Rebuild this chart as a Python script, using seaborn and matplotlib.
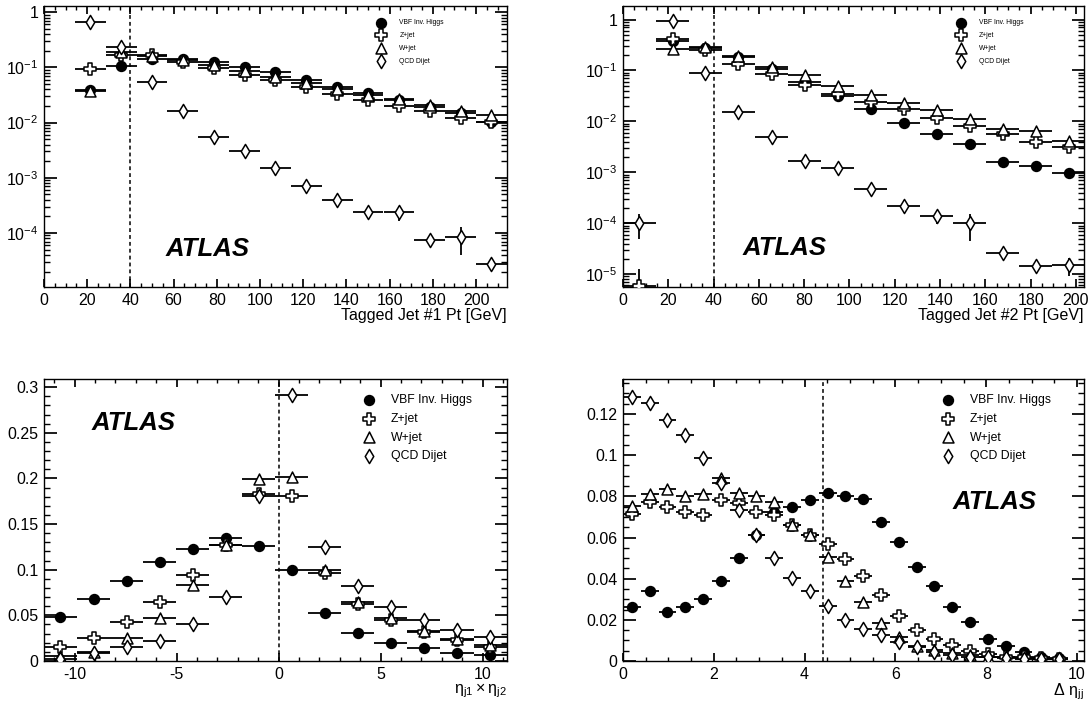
import matplotlib
matplotlib.use("Agg")
import matplotlib.pyplot as plt
import numpy as np
import seaborn as sns
from matplotlib.ticker import MultipleLocator, LogLocator, FuncFormatter, NullFormatter

sns.set_theme(style="ticks")
plt.rcParams["font.family"] = ["Liberation Sans", "DejaVu Sans"]
plt.rcParams["mathtext.fontset"] = "dejavusans"
plt.rcParams["mathtext.default"] = "regular"
for key in ("text.color", "axes.labelcolor", "xtick.color", "ytick.color", "axes.edgecolor"):
    plt.rcParams[key] = "black"

SAMPLES = ["VBF Inv. Higgs", "Z+jet", "W+jet", "QCD Dijet"]

# --- tagged jet #1 pt ---
pt1_x = [21.4, 35.7, 50.0, 64.3, 78.6, 92.9, 107.1, 121.4, 135.7, 150.0, 164.3, 178.6, 192.9, 207.1]
pt1_vbf = [0.039, 0.106, 0.140, 0.142, 0.127, 0.103, 0.081, 0.059, 0.0435, 0.034, 0.0257, 0.0195, 0.0152, 0.0104]
pt1_zjet = [0.092, 0.170, 0.167, 0.127, 0.096, 0.073, 0.059, 0.0435, 0.033, 0.0257, 0.020, 0.016, 0.0121, 0.0104]
pt1_wjet = [0.038, 0.190, 0.160, 0.135, 0.110, 0.085, 0.068, 0.053, 0.040, 0.031, 0.027, 0.021, 0.016, 0.0138]
pt1_qcd = [0.67, 0.235, 0.054, 0.0163, 0.0056, 0.0030, 0.0015, 7.0e-4, 4.0e-4, 2.35e-4, 2.35e-4, 7.4e-5, 8.5e-5, 2.7e-5]
pt1_qcd_err = [0, 0, 0, 0, 0, 0, 0, 0, 2e-5, 2e-5, 7e-5, 1e-5, 4.5e-5, 5e-6]

# --- tagged jet #2 pt ---
pt2_x = [7.3, 21.9, 36.4, 51.0, 65.6, 80.2, 94.8, 109.3, 123.9, 138.5, 153.0, 167.6, 182.2, 196.8]
pt2_vbf = [np.nan, 0.388, 0.281, 0.181, 0.106, 0.059, 0.0312, 0.0175, 0.0091, 0.0056, 0.0036, 0.00156, 0.00134, 0.00096]
pt2_zjet = [5.9e-6, 0.42, 0.253, 0.137, 0.084, 0.051, 0.0347, 0.0237, 0.0175, 0.0119, 0.0081, 0.0056, 0.0039, 0.0031]
pt2_zjet_err = [6.5e-6, 0, 0, 0, 0, 0, 0, 0, 0, 0, 0, 0, 0, 0]
pt2_wjet = [np.nan, 0.26, 0.294, 0.192, 0.118, 0.080, 0.0486, 0.0332, 0.023, 0.0167, 0.011, 0.0072, 0.0065, 0.0041]
pt2_qcd = [1.0e-4, 0.92, 0.088, 0.0155, 0.0050, 0.0017, 0.00124, 4.8e-4, 2.2e-4, 1.36e-4, 1.0e-4, 2.57e-5, 1.44e-5, 1.5e-5]
pt2_qcd_err = [5.2e-5, 0, 0, 0, 0, 0, 0, 0, 6e-5, 4e-5, 5.5e-5, 0, 0, 6e-6]

# --- eta_j1 x eta_j2 ---
eta_x = [-10.69, -9.07, -7.45, -5.83, -4.21, -2.59, -0.97, 0.65, 2.27, 3.89, 5.51, 7.13, 8.75, 10.37]
eta_vbf = [0.048, 0.068, 0.088, 0.108, 0.1225, 0.135, 0.126, 0.100, 0.053, 0.031, 0.020, 0.014, 0.0084, 0.0066]
eta_zjet = [0.015, 0.0248, 0.043, 0.065, 0.094, 0.127, 0.183, 0.181, 0.096, 0.063, 0.045, 0.032, 0.023, 0.0157]
eta_wjet = [0.0055, 0.010, 0.0248, 0.0467, 0.083, 0.127, 0.199, 0.202, 0.0995, 0.065, 0.047, 0.033, 0.024, 0.0175]
eta_qcd = [0.002, 0.0084, 0.015, 0.022, 0.0405, 0.070, 0.181, 0.292, 0.125, 0.082, 0.0594, 0.045, 0.034, 0.026]

# --- delta eta_jj ---
deta_x = [0.20, 0.59, 0.98, 1.37, 1.76, 2.16, 2.55, 2.94, 3.33, 3.72, 4.12, 4.51, 4.90,
          5.29, 5.68, 6.08, 6.47, 6.86, 7.25, 7.64, 8.04, 8.43, 8.82, 9.21, 9.60]
deta_vbf = [0.026, 0.034, 0.024, 0.026, 0.030, 0.039, 0.050, 0.0612, 0.0724, 0.0748, 0.0783, 0.0816, 0.080,
            0.0788, 0.0676, 0.058, 0.0458, 0.0363, 0.0264, 0.0188, 0.0109, 0.0072, 0.0043, 0.0021, 0.0016]
deta_zjet = [0.0712, 0.0773, 0.0749, 0.0725, 0.0709, 0.0781, 0.0770, 0.0725, 0.0709, 0.0661, 0.0613, 0.0568, 0.0496,
             0.0413, 0.0322, 0.0221, 0.0152, 0.0109, 0.0077, 0.0050, 0.0034, 0.0021, 0.0018, 0.0013, 0.0011]
deta_wjet = [0.0752, 0.0810, 0.0835, 0.0800, 0.0810, 0.0887, 0.0816, 0.0800, 0.0774, 0.0661, 0.0613, 0.0504, 0.0389,
             0.0285, 0.0184, 0.0117, 0.0072, 0.0053, 0.0037, 0.0029, 0.0021, 0.0018, 0.0014, 0.0011, 0.0010]
deta_qcd = [0.1285, 0.1253, 0.117, 0.110, 0.0987, 0.0866, 0.0733, 0.0613, 0.0501, 0.0405, 0.0338, 0.0269, 0.020,
            0.0157, 0.0125, 0.0093, 0.0069, 0.0045, 0.0029, 0.0021, 0.0018, 0.0013, 0.0011, 0.0010, 0.0008]

cuts = [40, 40, 0, 4.4]

MARKERS = {
    "VBF Inv. Higgs": ("o", "black", 50),
    "Z+jet": ("P", "white", 70),
    "W+jet": ("^", "white", 62),
    "QCD Dijet": ("d", "white", 52),
}


def draw_panel(ax, x, series, half_width, errors=None):
    errors = errors or {}
    for name, y in zip(SAMPLES, series):
        marker, face, size = MARKERS[name]
        ax.errorbar(x, y, xerr=half_width, yerr=errors.get(name), fmt="none",
                    ecolor="black", elinewidth=1.3, capsize=0, zorder=2)
        sns.scatterplot(x=x, y=y, marker=marker, s=size, color=face, edgecolor="black",
                        linewidth=1.1, ax=ax, label=name, zorder=3)


def style_axes(ax, xlabel, legend_anchor, legend_opts, atlas_xy):
    ax.tick_params(which="both", direction="in", top=True, right=True, colors="black",
                   labelsize=11.5, pad=4)
    ax.tick_params(axis="x", which="major", length=6)
    ax.tick_params(axis="x", which="minor", length=3)
    ax.tick_params(axis="y", which="major", length=9)
    ax.tick_params(axis="y", which="minor", length=4.5)
    for sp in ax.spines.values():
        sp.set_color("black")
        sp.set_linewidth(1.0)
    ax.set_xlabel(xlabel, loc="right", fontsize=11.5, labelpad=0)
    ax.set_ylabel("")
    ax.legend(loc="upper left", bbox_to_anchor=legend_anchor, frameon=False,
              borderpad=0, borderaxespad=0, **legend_opts)
    ax.text(atlas_xy[0], atlas_xy[1], "ATLAS", transform=ax.transAxes, fontsize=18.5,
            fontweight="bold", fontstyle="italic", ha="center", va="center")


def log_label(v, pos):
    if abs(v - 1) < 1e-9:
        return "1"
    return r"$10^{%d}$" % int(round(np.log10(v)))


fig = plt.figure(figsize=(10.91, 7.02), dpi=100)
ax1 = fig.add_axes([0.0403, 0.5912, 0.4244, 0.4003])
ax2 = fig.add_axes([0.5710, 0.5912, 0.4225, 0.4003])
ax3 = fig.add_axes([0.0403, 0.0584, 0.4244, 0.4017])
ax4 = fig.add_axes([0.5710, 0.0584, 0.4225, 0.4017])

for ax in (ax1, ax2):
    ax.set_yscale("log")

draw_panel(ax1, pt1_x, [pt1_vbf, pt1_zjet, pt1_wjet, pt1_qcd], 7.14,
           {"QCD Dijet": pt1_qcd_err})
draw_panel(ax2, pt2_x, [pt2_vbf, pt2_zjet, pt2_wjet, pt2_qcd], 7.29,
           {"Z+jet": pt2_zjet_err, "QCD Dijet": pt2_qcd_err})
draw_panel(ax3, eta_x, [eta_vbf, eta_zjet, eta_wjet, eta_qcd], 0.81)
draw_panel(ax4, deta_x, [deta_vbf, deta_zjet, deta_wjet, deta_qcd], 0.196)

for ax, c in zip((ax1, ax2, ax3, ax4), cuts):
    ax.axvline(c, color="black", lw=1.1, ls=(0, (2.5, 2)), zorder=1)

ax1.set_xlim(0, 214.3)
ax1.set_ylim(1.05e-5, 1.3)
ax2.set_xlim(0, 203.5)
ax2.set_ylim(5.6e-6, 1.85)
for ax in (ax1, ax2):
    ax.xaxis.set_major_locator(MultipleLocator(20))
    ax.xaxis.set_minor_locator(MultipleLocator(5))
    ax.yaxis.set_major_locator(LogLocator(base=10, numticks=12))
    ax.yaxis.set_minor_locator(LogLocator(base=10, subs=np.arange(2, 10), numticks=12))
    ax.yaxis.set_major_formatter(FuncFormatter(log_label))
    ax.yaxis.set_minor_formatter(NullFormatter())

ax3.set_xlim(-11.5, 11.2)
ax3.set_ylim(0, 0.309)
ax3.xaxis.set_major_locator(MultipleLocator(5))
ax3.xaxis.set_minor_locator(MultipleLocator(1))
ax3.yaxis.set_major_locator(MultipleLocator(0.05))
ax3.yaxis.set_minor_locator(MultipleLocator(0.01))

ax4.set_xlim(0, 10.15)
ax4.set_ylim(0, 0.137)
ax4.xaxis.set_major_locator(MultipleLocator(2))
ax4.xaxis.set_minor_locator(MultipleLocator(0.5))
ax4.yaxis.set_major_locator(MultipleLocator(0.02))
ax4.yaxis.set_minor_locator(MultipleLocator(0.005))
for ax in (ax3, ax4):
    ax.yaxis.set_major_formatter(FuncFormatter(lambda v, p: "%g" % round(v, 3)))
    ax.xaxis.set_major_formatter(FuncFormatter(lambda v, p: "%g" % round(v, 3)))

small_legend = dict(fontsize=4.9, handlelength=2.0, handletextpad=1.7, labelspacing=0.85)
big_legend = dict(fontsize=8.8, handlelength=1.0, handletextpad=1.3, labelspacing=0.56)

style_axes(ax1, "Tagged Jet #1 Pt [GeV]", (0.713, 0.952), small_legend, (0.353, 0.135))
style_axes(ax2, "Tagged Jet #2 Pt [GeV]", (0.718, 0.952), small_legend, (0.351, 0.139))
style_axes(ax3, r"$\eta_{j1} \times \eta_{j2}$", (0.689, 0.947), big_legend, (0.193, 0.844))
style_axes(ax4, r"$\Delta\ \eta_{jj}$", (0.692, 0.947), big_legend, (0.807, 0.564))

fig.savefig("out.png", dpi=100)
